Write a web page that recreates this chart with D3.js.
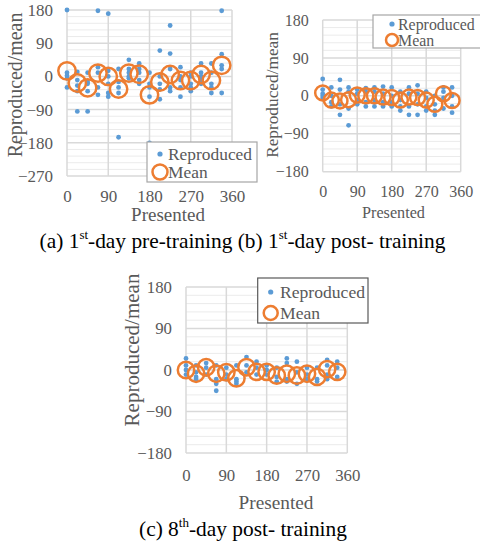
<!DOCTYPE html>
<html><head><meta charset="utf-8">
<script src="https://cdn.jsdelivr.net/npm/d3@7"></script>
<style>
html,body{margin:0;padding:0;background:#fff;}
svg{display:block;}
</style></head>
<body>
<svg id="c" width="480" height="546"></svg>
<script>
// ---------- DATA ----------
const presented = [0, 22.5, 45, 67.5, 90, 112.5, 135, 157.5, 180, 202.5, 225, 247.5, 270, 292.5, 315, 337.5];
const xTicks = [0, 90, 180, 270, 360];
const yTicksA = [-270, -180, -90, 0, 90, 180];
const yTicksB = [-180, -90, 0, 90, 180];
const yTicksC = [-180, -90, 0, 90, 180];

const meanA = [15, -18, -31, 9, 0, -34, 9, 6, -50, -15, 5, -11, -11, 5, -11, 30];
const meanB = [7, -10, -12, -9, 2, 0, 0, -3, -4, -10, -3, -4, -10, -20, 5, -11];
const meanC = [0, -8, 6, -8, -5, -18, 6, -4, -4, -12, -8, -12, -8, -15, 2, -4];

const reproducedA = [
  [180, 2, -5, -30, 10],
  [-95, 12, -10, -25, -40],
  [-95, 10, -20, -40, -15],
  [178, 25, 10, -50, -30],
  [170, 15, -20, -45, -55, 0],
  [-165, 20, -30, -45, -15],
  [45, 20, 10, -5, 0],
  [35, 20, 10, -10, -20],
  [-180, -55, -30, -20, 10],
  [70, -62, -20, 0, -35],
  [138, 62, 20, -30, -40],
  [25, -10, -30, -55, 0],
  [10, -20, -40, -30, 0],
  [35, 10, -10, -20, 0],
  [35, 10, -30, -45, -20],
  [178, 60, 30, 20, -45]
];
const reproducedB = [
  [40, 15, 5, 0, -5],
  [20, 0, -15, -25],
  [38, 15, -20, -45],
  [20, 10, -30, -70],
  [15, 5, -10, -20],
  [18, 10, -15, -25],
  [20, 10, -10, -25],
  [22, 5, -15, -25],
  [20, 0, -15, -25],
  [10, -10, -25, -35],
  [20, 5, -25, -45],
  [25, 5, -20, -45],
  [10, -5, -25, -35],
  [0, -20, -35, -45],
  [20, 10, -5, -30],
  [20, 0, -25, -40]
];
const reproducedC = [
  [25, 10, 0, -10],
  [10, -5, -15, -20],
  [15, 5, -10],
  [10, -20, -30, -45],
  [5, -10, -20],
  [10, -20, -30, -25],
  [28, 10, -5],
  [18, 5, -10],
  [10, 0, -10],
  [5, -15, -25],
  [25, 15, -20, -25],
  [18, -5, -30],
  [5, -10, -20],
  [5, -20, -25],
  [22, 10, -10, -20],
  [18, 5, -15]
];
const seriesNames = ["Reproduced", "Mean"];
const xTitle = "Presented";
const yTitle = "Reproduced/mean";

// ---------- DRAW ----------
const svg = d3.select("#c");
const BLUE = "#5B9BD5", ORANGE = "#ED7D31", TXT = "#595959";
const FONT = '"Liberation Serif"';

function chart(o) {
  const x = d3.scaleLinear().domain([0, 360]).range([o.x0, o.x1]);
  const y = d3.scaleLinear().domain([o.yTicks[0], o.yTicks[o.yTicks.length - 1]]).range([o.y0, o.y1]);
  const g = svg.append("g");
  const minor = d3.range(o.yTicks[0], o.yTicks[o.yTicks.length - 1] + 0.1, 18).filter(v => o.yTicks.indexOf(v) < 0);
  g.append("g").selectAll("line").data(minor).join("line")
    .attr("x1", o.x0).attr("x2", o.x1).attr("y1", d => y(d)).attr("y2", d => y(d))
    .attr("stroke", "#EBEBEB").attr("stroke-width", 1);
  g.append("g").selectAll("line").data(o.yTicks).join("line")
    .attr("x1", o.x0).attr("x2", o.x1).attr("y1", d => y(d)).attr("y2", d => y(d))
    .attr("stroke", "#D9D9D9").attr("stroke-width", 1.5);
  g.append("g").selectAll("line").data(xTicks).join("line")
    .attr("x1", d => x(d)).attr("x2", d => x(d)).attr("y1", o.y0).attr("y2", o.y1)
    .attr("stroke", "#D9D9D9").attr("stroke-width", 1.5);

  const ax = g.append("g").attr("transform", `translate(0,${o.y0 + o.xLabOff})`)
    .call(d3.axisBottom(x).tickValues(xTicks).tickSize(0).tickPadding(0).tickFormat(d3.format("d")));
  ax.select(".domain").remove();
  ax.selectAll("text").attr("fill", TXT).attr("dy", "0.35em")
    .style("font-family", FONT).style("font-size", o.fs + "px");
  const ay = g.append("g").attr("transform", `translate(${o.x0 - o.yLabOff},0)`)
    .call(d3.axisLeft(y).tickValues(o.yTicks).tickSize(0).tickPadding(0).tickFormat(d3.format("d")));
  ay.select(".domain").remove();
  ay.selectAll("text").attr("fill", TXT)
    .style("font-family", FONT).style("font-size", o.fs + "px");

  const pts = [];
  presented.forEach((p, i) => o.rep[i].forEach(v => pts.push([p, v])));
  g.append("g").selectAll("circle").data(pts).join("circle")
    .attr("cx", d => x(d[0])).attr("cy", d => y(d[1])).attr("r", 2.4).attr("fill", BLUE);
  g.append("g").selectAll("circle").data(presented).join("circle")
    .attr("cx", d => x(d)).attr("cy", (d, i) => y(o.mean[i])).attr("r", o.mr)
    .attr("fill", "none").attr("stroke", ORANGE).attr("stroke-width", 2.5);

  g.append("text").attr("x", o.xtx).attr("y", o.xty).attr("text-anchor", "middle")
    .attr("dominant-baseline", "central").attr("fill", TXT)
    .style("font-family", FONT).style("font-size", o.xtfs + "px").text(xTitle);
  g.append("text").attr("transform", `translate(${o.ytx},${o.yty}) rotate(-90)`).attr("text-anchor", "middle")
    .attr("dominant-baseline", "central").attr("fill", TXT)
    .style("font-family", FONT).style("font-size", o.ytfs + "px").text(yTitle);

  const L = o.leg;
  const lg = g.append("g");
  lg.append("rect").attr("x", L.x).attr("y", L.y).attr("width", L.w).attr("height", L.h)
    .attr("fill", "#fff").attr("stroke", L.stroke).attr("stroke-width", 1.2);
  lg.append("circle").attr("cx", L.mx).attr("cy", L.r1).attr("r", 2.6).attr("fill", BLUE);
  lg.append("circle").attr("cx", L.mx).attr("cy", L.r2).attr("r", L.cr)
    .attr("fill", "none").attr("stroke", ORANGE).attr("stroke-width", 2.5);
  lg.selectAll("text.l").data(seriesNames).join("text").attr("class", "l")
    .attr("x", L.tx).attr("y", (d, i) => i ? L.r2 : L.r1).attr("dominant-baseline", "central")
    .attr("fill", TXT).style("font-family", FONT).style("font-size", L.fs + "px").text(d => d);
}

chart({x0: 67, x1: 232, y0: 176, y1: 10, yTicks: yTicksA, mean: meanA, rep: reproducedA, mr: 8.7,
  fs: 17, xtfs: 19, ytfs: 19.9, xLabOff: 20.5, yLabOff: 14, xtx: 168, xty: 214, ytx: 15, yty: 85,
  leg: {x: 147, y: 142, w: 110, h: 40, stroke: "#A6A6A6", mx: 160, r1: 154, r2: 172, cr: 7.5, tx: 168, fs: 17.4}});
chart({x0: 322.7, x1: 460.7, y0: 171.7, y1: 20, yTicks: yTicksB, mean: meanB, rep: reproducedB, mr: 7.5,
  fs: 16, xtfs: 16.2, ytfs: 17.3, xLabOff: 20, yLabOff: 14, xtx: 393.5, xty: 213, ytx: 272, yty: 95,
  leg: {x: 373, y: 15, w: 110, h: 33, stroke: "#A6A6A6", mx: 392, r1: 24, r2: 40, cr: 6, tx: 398, fs: 15.9}});
chart({x0: 186, x1: 347.3, y0: 453, y1: 287, yTicks: yTicksC, mean: meanC, rep: reproducedC, mr: 8.2,
  fs: 16.8, xtfs: 19.3, ytfs: 21, xLabOff: 22, yLabOff: 14, xtx: 276, xty: 502, ytx: 132, yty: 350,
  leg: {x: 257.7, y: 278, w: 110.3, h: 45, stroke: "#595959", mx: 270.7, r1: 292, r2: 313, cr: 7, tx: 280, fs: 17.6}});

function caption(parts, cx, cy) {
  const t = svg.append("text").attr("x", cx).attr("y", cy).attr("text-anchor", "middle")
    .attr("dominant-baseline", "central").attr("fill", "#000")
    .style("font-family", FONT).style("font-size", "21.4px");
  parts.forEach(p => {
    if (p.sup) t.append("tspan").style("font-size", "13px").attr("dy", -7).text(p.t);
    else if (p.after) t.append("tspan").attr("dy", 7).text(p.t);
    else t.append("tspan").text(p.t);
  });
}
caption([{t: "(a) 1"}, {t: "st", sup: true}, {t: "-day pre-training (b) 1", after: true}, {t: "st", sup: true}, {t: "-day post- training", after: true}], 242.5, 241);
caption([{t: "(c) 8"}, {t: "th", sup: true}, {t: "-day post- training", after: true}], 243, 529);
</script>
</body></html>
